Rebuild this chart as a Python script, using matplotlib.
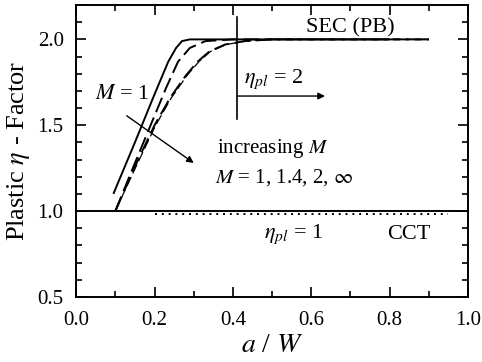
import numpy as np
import matplotlib
matplotlib.use("Agg")
from matplotlib import pyplot as plt
from matplotlib.ticker import MultipleLocator

plt.rcParams['font.family'] = ['Liberation Serif', 'DejaVu Serif']
plt.rcParams['mathtext.fontset'] = 'stix'

# SEC (PB) curves
x_m1 = [0.095, 0.15, 0.20, 0.235, 0.255, 0.27, 0.29, 0.40, 0.60, 0.80]
y_m1 = [1.10, 1.40, 1.68, 1.87, 1.95, 1.99, 2.00, 2.00, 2.00, 2.00]

x_m14 = [0.10, 0.15, 0.19, 0.23, 0.26, 0.29, 0.33, 0.40, 0.60, 0.90]
y_m14 = [1.00, 1.28, 1.50, 1.72, 1.87, 1.95, 1.99, 2.00, 2.00, 2.00]

x_m2 = [0.10, 0.15, 0.20, 0.24, 0.28, 0.31, 0.34, 0.38, 0.43, 0.50, 0.90]
y_m2 = [1.00, 1.26, 1.50, 1.66, 1.79, 1.87, 1.93, 1.97, 1.99, 2.00, 2.00]

x_minf = [0.10, 0.153, 0.203, 0.243, 0.283, 0.313, 0.343, 0.383, 0.433, 0.50, 0.90]
y_minf = [1.00, 1.26, 1.50, 1.66, 1.79, 1.87, 1.93, 1.97, 1.99, 2.00, 2.00]

# CCT
x_cct = [0.0, 1.0]
y_cct = [1.0, 1.0]
x_cct_dot = [0.20, 0.95]
y_cct_dot = [0.985, 0.985]

fig = plt.figure(figsize=(4.82, 3.62), dpi=100)
ax = fig.add_axes([0.158, 0.180, 0.813, 0.806])

ax.plot(x_m1, y_m1, color='black', lw=1.4, solid_capstyle='butt')
ax.plot(x_m14, y_m14, color='black', lw=1.4, dashes=(8, 3))
ax.plot(x_m2, y_m2, color='black', lw=1.4, dashes=(8, 3))
ax.plot(x_minf, y_minf, color='black', lw=0.9, dashes=(8, 3))
ax.plot(x_cct, y_cct, color='black', lw=1.4)
ax.plot(x_cct_dot, y_cct_dot, color='black', lw=1.4, dashes=(1, 2.5))

# eta_pl = 2 marker line and arrows
ax.plot([0.41, 0.41], [1.535, 2.13], color='black', lw=1.2)
ax.annotate('', xy=(0.635, 1.67), xytext=(0.41, 1.67),
            arrowprops=dict(arrowstyle='-|>', color='black', lw=1.0,
                            mutation_scale=10, shrinkA=0, shrinkB=0))
ax.annotate('', xy=(0.30, 1.28), xytext=(0.129, 1.555),
            arrowprops=dict(arrowstyle='-|>', color='black', lw=1.0,
                            mutation_scale=10, shrinkA=0, shrinkB=0))

fs = 16
ax.text(0.505, 1.765, r'$\eta_{pl}$ = 2', fontsize=fs, ha='center', va='center')
ax.text(0.70, 2.065, 'SEC (PB)', fontsize=fs, ha='center', va='center')
ax.text(0.048, 1.68, r'$M$ = 1', fontsize=fs, ha='left', va='center')
ax.text(0.36, 1.365, r'increasing $M$', fontsize=15, ha='left', va='center')
ax.text(0.355, 1.195, r'$M$ = 1, 1.4, 2, $\infty$', fontsize=15, ha='left', va='center')
ax.text(0.555, 0.865, r'$\eta_{pl}$ = 1', fontsize=fs, ha='center', va='center')
ax.text(0.85, 0.865, 'CCT', fontsize=fs, ha='center', va='center')

ax.set_xlim(0.0, 1.0)
ax.set_ylim(0.5, 2.2)
ax.xaxis.set_major_locator(MultipleLocator(0.2))
ax.xaxis.set_minor_locator(MultipleLocator(0.1))
ax.yaxis.set_major_locator(MultipleLocator(0.5))
ax.yaxis.set_minor_locator(MultipleLocator(0.1))
ax.tick_params(which='both', direction='in', top=True, right=True, labelsize=15, width=1.2)
ax.tick_params(which='major', length=7)
ax.tick_params(which='minor', length=4)
ax.tick_params(axis='x', which='major', pad=10)
ax.tick_params(axis='y', which='major', pad=9)
ax.xaxis.set_major_formatter(plt.FuncFormatter(lambda v, p: f'{v:.1f}'))
ax.yaxis.set_major_formatter(plt.FuncFormatter(lambda v, p: f'{v:.1f}'))
for s in ax.spines.values():
    s.set_linewidth(1.4)

ax.set_xlabel(r'$a$ / $W$', fontsize=20, labelpad=2)
ax.set_ylabel(r'Plastic $\eta$ - Factor', fontsize=19, labelpad=4)

fig.savefig('out.png', dpi=100)
